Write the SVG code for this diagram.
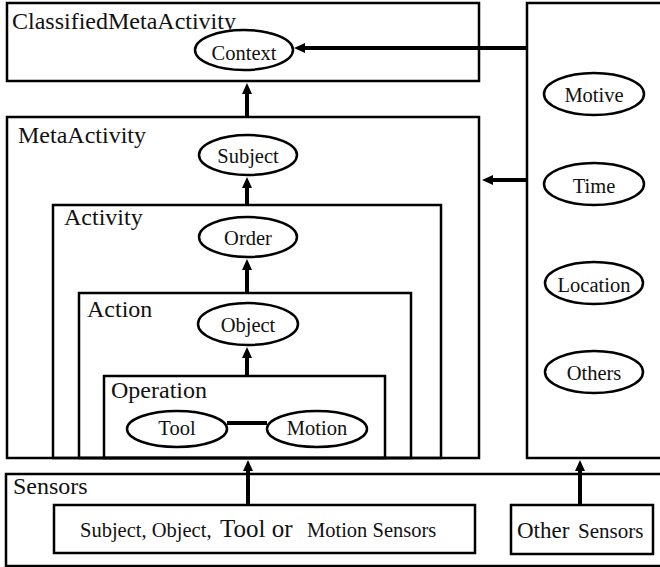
<svg xmlns="http://www.w3.org/2000/svg" width="660" height="567" viewBox="0 0 660 567" font-family="Liberation Serif, Times New Roman, serif">
<style>
.box{fill:none;stroke:#000;stroke-width:2.5}
.ell{fill:#fff;stroke:#000;stroke-width:2.5}
text{fill:#111}
.lbl{font-size:24px}
.el{font-size:20.5px;text-anchor:middle}
.sm{font-size:20.5px}
.conn{fill:none;stroke:#000;stroke-width:4}
</style>
<defs>
<marker id="ah" markerUnits="userSpaceOnUse" markerWidth="14" markerHeight="14" refX="0" refY="6" orient="auto" overflow="visible">
<path d="M0,1 L11,6 L0,11 z" fill="#000"/>
</marker>
</defs>
<rect width="660" height="567" fill="#fff"/>

<g id="classified">
<rect class="box" x="7" y="3" width="472" height="78"/>
<text class="lbl" x="12" y="29" font-family="Liberation Serif, serif">ClassifiedMetaActivity</text>
</g>
<g id="context-sources">
<rect class="box" x="527" y="3" width="150" height="455"/>
</g>
<g id="meta">
<rect class="box" x="7" y="117" width="472" height="341"/>
<text class="lbl" x="18" y="143">MetaActivity</text>
</g>
<g id="activity">
<rect class="box" x="53" y="205" width="388" height="253"/>
<text class="lbl" x="64" y="225">Activity</text>
</g>
<g id="action">
<rect class="box" x="79" y="293" width="332" height="165"/>
<text class="lbl" x="87" y="317">Action</text>
</g>
<g id="operation">
<rect class="box" x="104" y="376" width="281" height="82"/>
<text class="lbl" x="111" y="398">Operation</text>
</g>
<g id="sensors">
<rect class="box" x="6" y="474" width="670" height="92"/>
<text class="lbl" x="13" y="494">Sensors</text>
</g>
<g id="main-sensors">
<rect class="box" x="54" y="505" width="421" height="48"/>
<text y="537"><tspan class="sm" x="80">Subject, Object,</tspan><tspan class="lbl" x="220" style="font-size:25px">Tool or</tspan><tspan class="sm" x="307">Motion Sensors</tspan></text>
</g>
<g id="other-sensors">
<rect class="box" x="511" y="505" width="142" height="49"/>
<text y="538"><tspan class="lbl" x="517" style="font-size:23px">Other</tspan><tspan class="sm" x="578" style="font-size:21px">Sensors</tspan></text>
</g>

<g id="connectors">
<line class="conn" x1="527" y1="48" x2="305" y2="48" marker-end="url(#ah)"/>
<line class="conn" x1="527" y1="180" x2="493" y2="180" marker-end="url(#ah)"/>
<line class="conn" x1="247" y1="117" x2="247" y2="94" marker-end="url(#ah)"/>
<line class="conn" x1="247" y1="205" x2="247" y2="188" marker-end="url(#ah)"/>
<line class="conn" x1="247" y1="293" x2="247" y2="270" marker-end="url(#ah)"/>
<line class="conn" x1="247" y1="376" x2="247" y2="358" marker-end="url(#ah)"/>
<line class="conn" x1="227" y1="423" x2="267" y2="423"/>
<line class="conn" x1="248" y1="505" x2="248" y2="471" marker-end="url(#ah)"/>
<line class="conn" x1="580" y1="505" x2="580" y2="471" marker-end="url(#ah)"/>
</g>

<g id="n-context"><ellipse class="ell" cx="244" cy="50" rx="49" ry="20"/><text class="el" x="244" y="60">Context</text></g>
<g id="n-subject"><ellipse class="ell" cx="248" cy="155" rx="49" ry="20"/><text class="el" x="248" y="163">Subject</text></g>
<g id="n-order"><ellipse class="ell" cx="248" cy="237" rx="49" ry="20"/><text class="el" x="248" y="245">Order</text></g>
<g id="n-object"><ellipse class="ell" cx="248" cy="324" rx="50" ry="21"/><text class="el" x="248" y="332">Object</text></g>
<g id="n-tool"><ellipse class="ell" cx="177" cy="429" rx="50" ry="18"/><text class="el" x="177" y="435">Tool</text></g>
<g id="n-motion"><ellipse class="ell" cx="317" cy="429" rx="50" ry="18"/><text class="el" x="317" y="435">Motion</text></g>
<g id="n-motive"><ellipse class="ell" cx="594" cy="94" rx="50" ry="21"/><text class="el" x="594" y="102">Motive</text></g>
<g id="n-time"><ellipse class="ell" cx="594" cy="184" rx="50" ry="21"/><text class="el" x="594" y="193">Time</text></g>
<g id="n-location"><ellipse class="ell" cx="594" cy="283" rx="49" ry="21"/><text class="el" x="594" y="292">Location</text></g>
<g id="n-others"><ellipse class="ell" cx="594" cy="372" rx="49" ry="21"/><text class="el" x="594" y="380">Others</text></g>
</svg>
